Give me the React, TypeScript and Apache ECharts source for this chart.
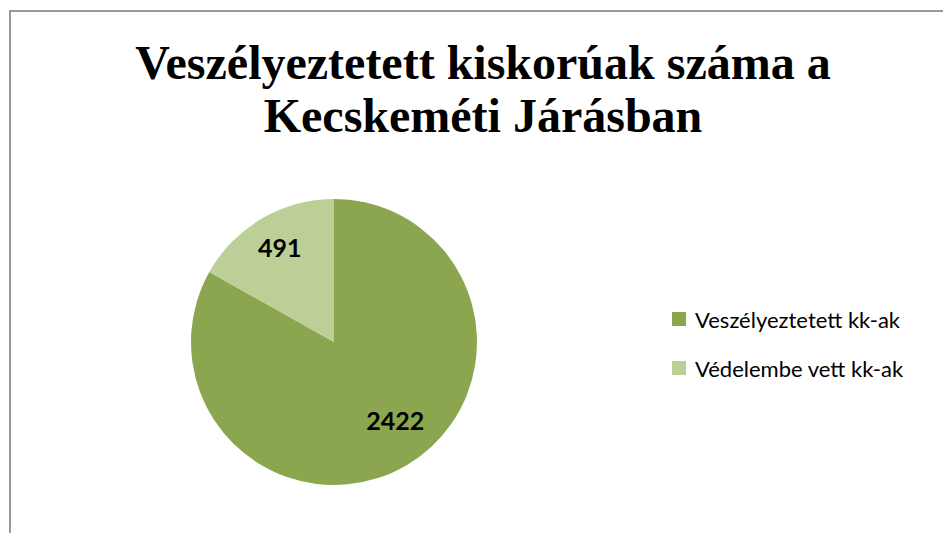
import React, { useEffect, useRef } from "react";
import * as echarts from "echarts";

const titleLines = ["Veszélyeztetett kiskorúak száma a", "Kecskeméti Járásban"];
const categories = ["Veszélyeztetett kk-ak", "Védelembe vett kk-ak"];
const values = [2422, 491];
const colors = ["#8BA64F", "#BBCF97"];

export default function App() {
  const ref = useRef<HTMLDivElement>(null);
  useEffect(() => {
    if (!ref.current) return;
    const chart = echarts.init(ref.current, null, { renderer: "svg" });
    const data = categories.map((name, i) => ({
      name,
      value: values[i],
      itemStyle: { color: colors[i] },
    }));
    chart.setOption({
      animation: false,
      backgroundColor: "#ffffff",
      title: {
        text: titleLines.join("\n"),
        left: 478,
        top: 31,
        textAlign: "center",
        textStyle: {
          fontFamily: "'Liberation Serif', 'Times New Roman', serif",
          fontWeight: "bold",
          fontSize: 48,
          lineHeight: 53,
          color: "#000000",
        },
      },
      legend: {
        orient: "vertical",
        left: 667,
        top: 303,
        itemWidth: 14,
        itemHeight: 14,
        itemGap: 27,
        icon: "rect",
        selectedMode: false,
        data: categories,
        textStyle: {
          fontFamily: "Lato, 'Open Sans', sans-serif",
          fontSize: 22,
          color: "#000000",
          padding: [0, 0, 0, 4],
        },
      },
      graphic: [
        {
          type: "rect",
          shape: { x: 10, y: 11, width: 1000, height: 600 },
          style: { fill: "none", stroke: "#999999", lineWidth: 2 },
          silent: true,
          z: 100,
        },
      ],
      series: [
        {
          type: "pie",
          center: [334, 342],
          radius: [0, 143],
          startAngle: 90,
          clockwise: true,
          label: { show: false },
          labelLine: { show: false },
          silent: true,
          data,
        },
        {
          type: "pie",
          center: [334, 342],
          radius: [66, 143],
          startAngle: 90,
          clockwise: true,
          silent: true,
          itemStyle: { color: "rgba(0,0,0,0)" },
          label: {
            show: true,
            position: "inside",
            formatter: "{c}",
            fontFamily: "Lato, 'Open Sans', sans-serif",
            fontWeight: "bold",
            fontSize: 25,
            color: "#000000",
          },
          labelLayout: (params: any) =>
            params.dataIndex === 0 ? { dx: 7, dy: -15 } : { dx: 0, dy: -2 },
          labelLine: { show: false },
          data: categories.map((name, i) => ({ name, value: values[i] })),
        },
      ],
    });
    return () => chart.dispose();
  }, []);
  return (
    <div
      ref={ref}
      style={{ position: "fixed", left: 0, top: 0, width: 943, height: 533 }}
    />
  );
}
